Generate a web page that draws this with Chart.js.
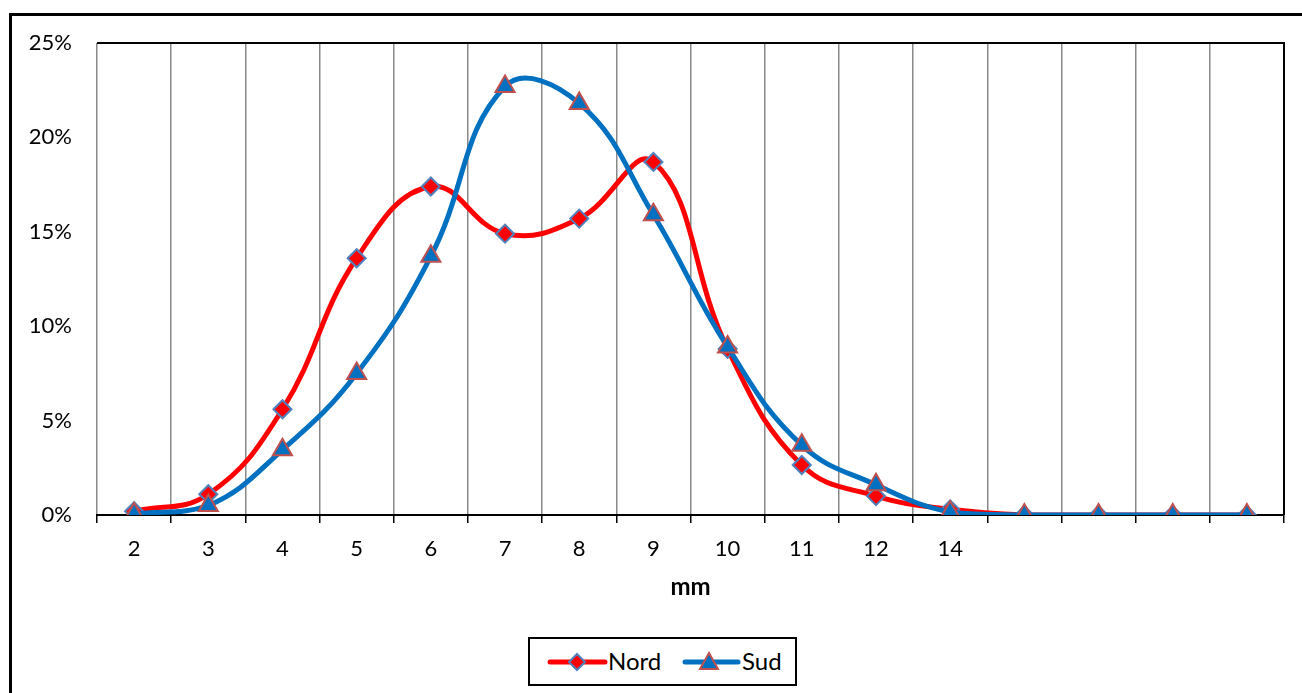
<!DOCTYPE html>
<html>
<head>
<meta charset="utf-8">
<script src="https://cdn.jsdelivr.net/npm/chart.js@4.4.1/dist/chart.umd.min.js"></script>
<style>
  html, body { margin:0; padding:0; background:#fff; overflow:hidden; width:1302px; height:693px; }
  #frame { position:absolute; left:9px; top:13px; width:1400px; height:800px; border:3px solid #000; box-sizing:border-box; }
  #wrap { position:absolute; left:0; top:0; width:1302px; height:693px; }
  #legend { position:absolute; left:528px; top:637px; width:269px; height:49px; border:2px solid #000; box-sizing:border-box; background:#fff; font-family:Lato, 'Open Sans', sans-serif; font-size:24px; color:#000; }
  #legend svg { position:absolute; left:0; top:0; }
  #legend span { position:absolute; top:9px; line-height:26px; }
</style>
</head>
<body>
<div id="frame"></div>
<div id="wrap"><canvas id="c" width="1302" height="693"></canvas></div>
<div id="legend">
  <svg width="265" height="45" viewBox="0 0 265 45">
    <line x1="20" y1="23" x2="75" y2="23" stroke="#FF0000" stroke-width="5" stroke-linecap="round"/>
    <polygon points="47,15 55,23 47,31 39,23" fill="#FF0000" stroke="#4F81BD" stroke-width="2"/>
    <line x1="155" y1="23" x2="208" y2="23" stroke="#0070C0" stroke-width="5" stroke-linecap="round"/>
    <polygon points="179,14 188,30 170,30" fill="#0070C0" stroke="#C0504D" stroke-width="2"/>
  </svg>
  <span id="l1" style="left:78px">Nord</span>
  <span id="l2" style="left:212px">Sud</span>
</div>
<script>
const categories = ['2','3','4','5','6','7','8','9','10','11','12','14','','','',''];
const nord = [0.2, 1.1, 5.6, 13.6, 17.4, 14.9, 15.7, 18.7, 8.8, 2.65, 1.0, 0.3, 0, 0, 0, 0];
const sud  = [0.05, 0.5, 3.45, 7.5, 13.7, 22.7, 21.8, 15.9, 8.9, 3.7, 1.6, 0.15, 0, 0, 0, 0];
const yTicks = [0, 5, 10, 15, 20, 25];

const FONT = "Lato, 'Open Sans', sans-serif";

const frameBorder = {
  id: 'frameBorder',
  afterDraw(chart) {
    const {ctx, chartArea: a} = chart;
    ctx.save();
    ctx.strokeStyle = '#000';
    ctx.lineWidth = 2;
    ctx.beginPath();
    ctx.moveTo(a.left, a.top);
    ctx.lineTo(a.right, a.top);
    ctx.lineTo(a.right, a.bottom);
    ctx.stroke();
    ctx.restore();
  }
};

new Chart(document.getElementById('c'), {
  type: 'line',
  data: {
    labels: categories,
    datasets: [
      {
        label: 'Nord', data: nord, order: 1,
        borderColor: '#FF0000', borderWidth: 5,
        pointStyle: 'rectRot', pointRadius: 9, pointHoverRadius: 9,
        pointBackgroundColor: '#FF0000', pointBorderColor: '#4F81BD', pointBorderWidth: 2,
        tension: 0.42, fill: false
      },
      {
        label: 'Sud', data: sud, order: 0,
        borderColor: '#0070C0', borderWidth: 5,
        pointStyle: 'triangle', pointRadius: 11, pointHoverRadius: 11,
        pointBackgroundColor: '#0070C0', pointBorderColor: '#C0504D', pointBorderWidth: 2,
        tension: 0.42, fill: false
      }
    ]
  },
  options: {
    responsive: false,
    animation: false,
    layout: { padding: { left: 0, right: 18, top: 43, bottom: 78 } },
    plugins: { legend: { display: false }, tooltip: { enabled: false } },
    scales: {
      x: {
        type: 'category',
        offset: true,
        grid: { display: true, offset: true, color: '#888888', lineWidth: 1.5, tickLength: 8, tickColor: '#000', tickWidth: 1.5 },
        border: { display: true, color: '#000', width: 2 },
        ticks: { color: '#000', font: { family: FONT, size: 22 }, padding: 13, maxRotation: 0, autoSkip: false },
        title: { display: true, text: 'mm', color: '#000', font: { family: FONT, size: 24, weight: 'bold' }, padding: { top: 0, bottom: 13 } },
        afterFit(s) { s.height = 100; }
      },
      y: {
        min: 0, max: 25,
        afterBuildTicks(s) { s.ticks = yTicks.map(v => ({ value: v })); },
        grid: { display: false, drawTicks: false },
        border: { display: false },
        ticks: { color: '#000', font: { family: FONT, size: 22 }, padding: 25, callback: v => v + '%' },
        afterFit(s) { s.width = 97; }
      }
    }
  },
  plugins: [frameBorder]
});
</script>
</body>
</html>
